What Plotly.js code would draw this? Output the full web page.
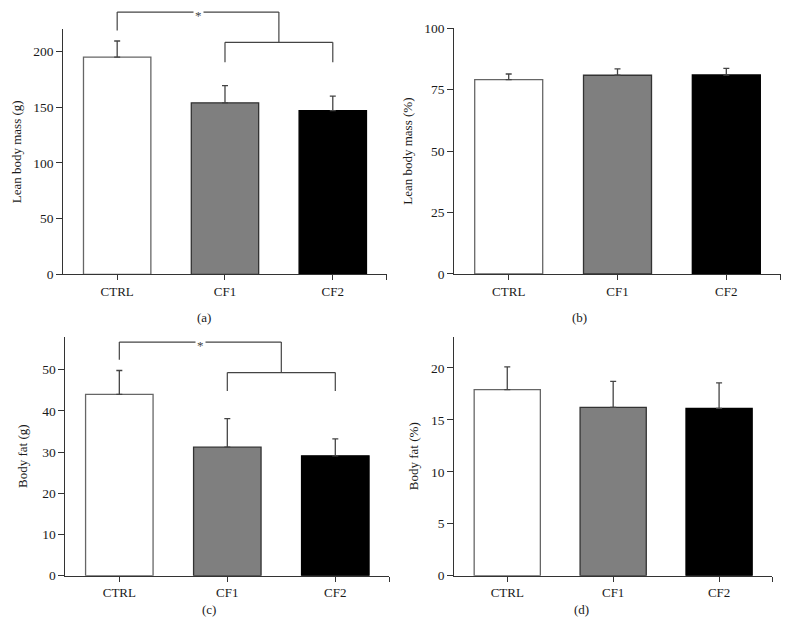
<!DOCTYPE html>
<html>
<head>
<meta charset="utf-8">
<script src="https://cdn.plot.ly/plotly-3.0.1.min.js"></script>
<style>html,body{margin:0;padding:0;background:#fff;}#chart{width:789px;height:632px;}</style>
</head>
<body>
<div id="chart"></div>
<script>
// ---- data ----
const categories = ['CTRL', 'CF1', 'CF2'];
const leanMassG = [195, 154, 147];
const leanMassGErr = [14.5, 15.5, 13];
const leanMassPct = [79.1, 80.9, 81.0];
const leanMassPctErr = [2.3, 2.6, 2.7];
const bodyFatG = [44, 31.2, 29.1];
const bodyFatGErr = [5.8, 6.9, 4.1];
const bodyFatPct = [17.9, 16.2, 16.1];
const bodyFatPctErr = [2.2, 2.5, 2.45];
// significance brackets: [upper level, left leg end, lower level, lower legs end]
const bracketA = [235.5, 219, 208.3, 190.4];
const bracketC = [56.7, 52.4, 49.3, 44.8];
const yTicksA = [0, 50, 100, 150, 200];
const yTicksB = [0, 25, 50, 75, 100];
const yTicksC = [0, 10, 20, 30, 40, 50];
const yTicksD = [0, 5, 10, 15, 20];

// ---- style ----
const FONT = {family: 'Liberation Serif, Times New Roman, serif', size: 13, color: '#1a1a1a'};
const TICKFONT = {family: FONT.family, size: 13.5, color: '#1a1a1a'};
const barColors = ['#ffffff', '#7f7f7f', '#000000'];
const barLines = ['#666666', '#333333', '#000000'];
const AX = '#333';
const xIdx = categories.map((c, i) => i);

function barTrace(vals, errs, xa, ya) {
  return {
    type: 'bar', x: xIdx, y: vals, xaxis: xa, yaxis: ya, width: 0.625,
    marker: {color: barColors, line: {color: barLines, width: 1.3}},
    error_y: {type: 'data', symmetric: false, array: errs, arrayminus: errs.map(() => 0),
              color: '#444', thickness: 1.3, width: 3},
    hoverinfo: 'skip'
  };
}

function xAxis(domain, anchor) {
  return {
    domain: domain, anchor: anchor, range: [-0.5, 2.5], type: 'linear',
    tickvals: xIdx.concat([2.5]), ticktext: categories.concat(['']),
    showline: true, linecolor: AX, linewidth: 1, ticks: 'outside', ticklen: 5, tickcolor: AX,
    showgrid: false, zeroline: false, tickfont: FONT, fixedrange: true
  };
}
function yAxis(domain, anchor, range, ticks, title, standoff) {
  return {
    domain: domain, anchor: anchor, range: range, tickvals: ticks,
    showline: true, linecolor: AX, linewidth: 1, ticks: 'outside', ticklen: 6, tickcolor: AX,
    showgrid: false, zeroline: false, tickfont: TICKFONT, fixedrange: true,
    title: {text: title, font: FONT, standoff: standoff}
  };
}

function bracketShapes(xa, ya, ymax, lv) {
  const yr = ya + ' domain';
  const f = v => v / ymax;
  const line = {color: '#444', width: 1.2};
  const mid = (xIdx[1] + xIdx[2]) / 2;
  return [
    {type: 'line', xref: xa, yref: yr, x0: xIdx[0], x1: xIdx[0], y0: f(lv[1]), y1: f(lv[0]), line: line},
    {type: 'line', xref: xa, yref: yr, x0: xIdx[0], x1: mid, y0: f(lv[0]), y1: f(lv[0]), line: line},
    {type: 'line', xref: xa, yref: yr, x0: mid, x1: mid, y0: f(lv[0]), y1: f(lv[2]), line: line},
    {type: 'line', xref: xa, yref: yr, x0: xIdx[1], x1: xIdx[2], y0: f(lv[2]), y1: f(lv[2]), line: line},
    {type: 'line', xref: xa, yref: yr, x0: xIdx[1], x1: xIdx[1], y0: f(lv[2]), y1: f(lv[3]), line: line},
    {type: 'line', xref: xa, yref: yr, x0: xIdx[2], x1: xIdx[2], y0: f(lv[2]), y1: f(lv[3]), line: line}
  ];
}
function starAnn(xa, ya, ymax, lv) {
  const mid = (xIdx[1] + xIdx[2]) / 2;
  return {xref: xa, yref: ya + ' domain', x: (xIdx[0] + mid) / 2, y: lv[0] / ymax, text: '*',
          xanchor: 'center', yanchor: 'middle',
          showarrow: false, bgcolor: '#ffffff', font: {family: FONT.family, size: 13, color: '#444'},
          borderpad: 1, yshift: -3};
}

const data = [
  barTrace(leanMassG, leanMassGErr, 'x', 'y'),
  barTrace(leanMassPct, leanMassPctErr, 'x2', 'y2'),
  barTrace(bodyFatG, bodyFatGErr, 'x3', 'y3'),
  barTrace(bodyFatPct, bodyFatPctErr, 'x4', 'y4')
];

const yDomTop = [0.5660, 0.9536];
const yDomBot = [0.0891, 0.4672];
const layout = {
  width: 789, height: 632, margin: {l: 0, r: 0, t: 0, b: 0},
  paper_bgcolor: '#fff', plot_bgcolor: '#fff', showlegend: false, font: FONT,
  xaxis: xAxis([0.0802, 0.4901], 'y'),
  yaxis: yAxis(yDomTop, 'x', [0, 220], yTicksA, 'Lean body mass (g)', 8),
  xaxis2: xAxis([0.5758, 0.9895], 'y2'),
  yaxis2: yAxis([0.5665, 0.9552], 'x2', [0, 100], yTicksB, 'Lean body mass (%)', 8),
  xaxis3: xAxis([0.0828, 0.4934], 'y3'),
  yaxis3: yAxis(yDomBot, 'x3', [0, 58], yTicksC, 'Body fat (g)', 11),
  xaxis4: xAxis([0.5758, 0.9785], 'y4'),
  yaxis4: yAxis(yDomBot, 'x4', [0, 23], yTicksD, 'Body fat (%)', 9),
  shapes: bracketShapes('x', 'y', 220, bracketA).concat(bracketShapes('x3', 'y3', 58, bracketC)),
  annotations: [
    starAnn('x', 'y', 220, bracketA),
    starAnn('x3', 'y3', 58, bracketC),
    {xref: 'paper', yref: 'paper', x: 0.2471, y: 0.4973, text: '(a)', showarrow: false, font: FONT},
    {xref: 'paper', yref: 'paper', x: 0.7465, y: 0.4973, text: '(b)', showarrow: false, font: FONT},
    {xref: 'paper', yref: 'paper', x: 0.2535, y: 0.0206, text: '(c)', showarrow: false, font: FONT},
    {xref: 'paper', yref: 'paper', x: 0.7490, y: 0.0206, text: '(d)', showarrow: false, font: FONT}
  ]
};

Plotly.newPlot('chart', data, layout, {displayModeBar: false, staticPlot: true});
</script>
</body>
</html>
